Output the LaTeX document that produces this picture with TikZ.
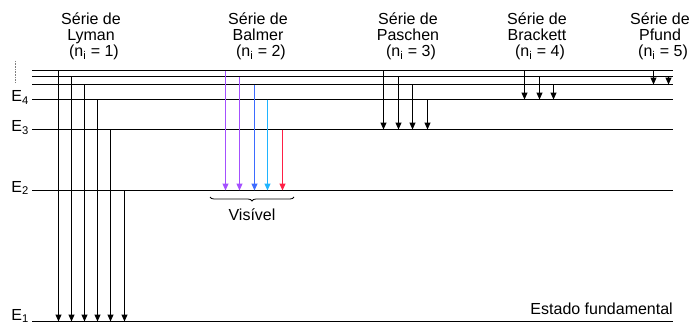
\documentclass[tikz,border=0pt]{standalone}
\usepackage{fontspec}
\setmainfont{Liberation Sans}
\usetikzlibrary{arrows.meta,decorations.pathreplacing}
\definecolor{violeta}{HTML}{A450FF}
\definecolor{azul}{HTML}{3D6BFF}
\definecolor{ciano}{HTML}{1FB4FF}
\definecolor{vermelho}{HTML}{FF1F45}
\begin{document}
\begin{tikzpicture}[x=1pt,y=-1pt,
    level/.style={line width=1pt},
    trans/.style={line width=1pt,-{Triangle[length=7pt,width=6pt]}},
    serie/.style={align=center,inner sep=0pt,anchor=north,font=\fontsize{16}{16}\selectfont},
    txt/.style={inner sep=0pt,font=\fontsize{16}{16}\selectfont}]
  \useasboundingbox (0,0) rectangle (698,324);
  % levels
  \path
    (32,321.5) coordinate (e1) (673,321.5) coordinate (e1r)
    (32,190.5) coordinate (e2) (673,190.5) coordinate (e2r)
    (32,129.5) coordinate (e3) (673,129.5) coordinate (e3r)
    (32,99.5) coordinate (e4) (673,99.5) coordinate (e4r)
    (32,84.5) coordinate (e5) (673,84.5) coordinate (e5r)
    (32,76.5) coordinate (e6) (673,76.5) coordinate (e6r)
    (32,70.5) coordinate (e7) (673,70.5) coordinate (e7r);
  \draw[level] (e1) -- (e1r);
  \draw[level] (e2) -- (e2r);
  \draw[level] (e3) -- (e3r);
  \draw[level] (e4) -- (e4r);
  \draw[level] (e5) -- (e5r);
  \draw[level] (e6) -- (e6r);
  \draw[level] (e7) -- (e7r);
  \path (15.5,61) coordinate (dot1) (15.5,82) coordinate (dot2);
  \draw[gray,line width=0.8pt,dash pattern=on 0.8pt off 0.8pt] (dot1) -- (dot2);
  \node[txt,anchor=base east] (le1) at (29,320) {E\textsubscript{1}};
  \node[txt,anchor=base east] (le2) at (29,192) {E\textsubscript{2}};
  \node[txt,anchor=base east] (le3) at (29,131.5) {E\textsubscript{3}};
  \node[txt,anchor=base east] (le4) at (29,101.5) {E\textsubscript{4}};
  % series
  \node[serie] (lyman) at (91,13) {Série de\\Lyman\\\hspace*{6pt}(n\textsubscript{i} = 1)};
  \node[serie] (balmer) at (258,13) {Série de\\Balmer\\\hspace*{6pt}(n\textsubscript{i} = 2)};
  \node[serie] (paschen) at (408,13) {Série de\\Paschen\\\hspace*{6pt}(n\textsubscript{i} = 3)};
  \node[serie] (brackett) at (537,13) {Série de\\Brackett\\\hspace*{6pt}(n\textsubscript{i} = 4)};
  \node[serie] (pfund) at (660,13) {Série de\\Pfund\\\hspace*{6pt}(n\textsubscript{i} = 5)};
  \path
    (58.5,0) coordinate (l1) (71.5,0) coordinate (l2) (84.5,0) coordinate (l3)
    (97.5,0) coordinate (l4) (110.5,0) coordinate (l5) (124.5,0) coordinate (l6)
    (225.5,0) coordinate (b1) (239.5,0) coordinate (b2) (254.5,0) coordinate (b3)
    (267.5,0) coordinate (b4) (282.5,0) coordinate (b5)
    (383.5,0) coordinate (p1) (398.5,0) coordinate (p2) (412.5,0) coordinate (p3)
    (427.5,0) coordinate (p4)
    (524.5,0) coordinate (k1) (539.5,0) coordinate (k2) (553.5,0) coordinate (k3)
    (653.5,0) coordinate (f1) (668.5,0) coordinate (f2);
  \begin{scope}[trans]
    \draw (l1 |- e7) to (l1 |- e1);
    \draw (l2 |- e6) to (l2 |- e1);
    \draw (l3 |- e5) to (l3 |- e1);
    \draw (l4 |- e4) to (l4 |- e1);
    \draw (l5 |- e3) to (l5 |- e1);
    \draw (l6 |- e2) to (l6 |- e1);
    \draw[violeta] (b1 |- e7) to (b1 |- e2);
    \draw[violeta] (b2 |- e6) to (b2 |- e2);
    \draw[azul] (b3 |- e5) to (b3 |- e2);
    \draw[ciano] (b4 |- e4) to (b4 |- e2);
    \draw[vermelho] (b5 |- e3) to (b5 |- e2);
    \draw (p1 |- e7) to (p1 |- e3);
    \draw (p2 |- e6) to (p2 |- e3);
    \draw (p3 |- e5) to (p3 |- e3);
    \draw (p4 |- e4) to (p4 |- e3);
    \draw (k1 |- e7) to (k1 |- e4);
    \draw (k2 |- e6) to (k2 |- e4);
    \draw (k3 |- e5) to (k3 |- e4);
    \draw (f1 |- e7) to (f1 |- e5);
    \draw (f2 |- e6) to (f2 |- e5);
  \end{scope}
  % visible part
  \path (210,197) coordinate (br1) (294,197) coordinate (br2);
  \draw[decorate,decoration={brace,mirror,amplitude=4pt},line width=0.8pt] (br1) -- (br2);
  \node[txt,anchor=base] (vis) at (252,220) {Visível};
  \node[txt,anchor=base east] (fund) at (673,314.5) {Estado fundamental};
\end{tikzpicture}
\end{document}
